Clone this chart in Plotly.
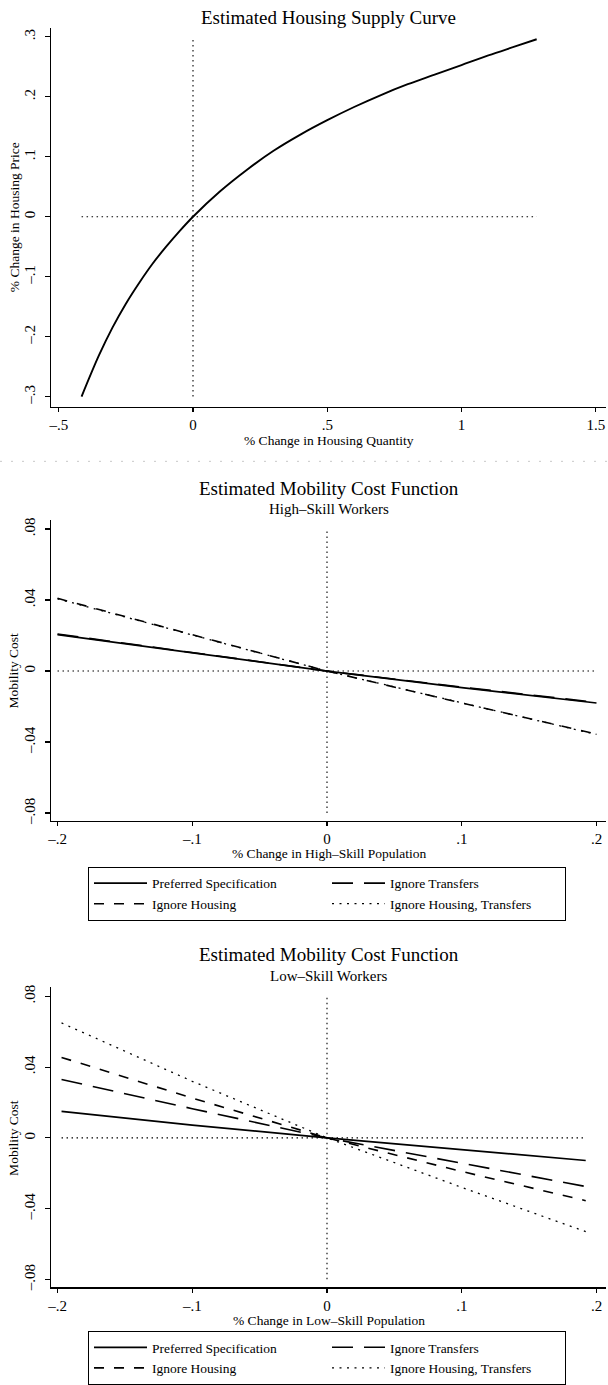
import plotly.graph_objects as go

W, H = 608, 1385
FONT = "Liberation Serif"

# ---------------- data ----------------
# Panel 1: housing supply curve
housing_qty = [-0.415, -0.35, -0.3, -0.25, -0.2, -0.15, -0.1, -0.05, 0.0, 0.1, 0.2, 0.3,
               0.4, 0.5, 0.6, 0.7, 0.8, 0.9, 1.0, 1.1, 1.2, 1.28]
housing_price = [-0.300, -0.231, -0.185, -0.145, -0.110, -0.078, -0.050, -0.024, 0.0, 0.042,
                 0.078, 0.110, 0.137, 0.161, 0.183, 0.203, 0.221, 0.237, 0.253, 0.269,
                 0.284, 0.296]

series_names = ["Preferred Specification", "Ignore Transfers",
                "Ignore Housing", "Ignore Housing, Transfers"]

# Panel 2: high-skill mobility cost
high_pop = [-0.2, -0.1, 0.0, 0.1, 0.2]
high_pref = [0.0205, 0.0102, 0.0, -0.0093, -0.0180]
high_transfers = [0.0209, 0.0105, 0.0, -0.0090, -0.0177]
high_housing = [0.0410, 0.0205, 0.0, -0.0180, -0.0355]
high_housing_transfers = [0.0407, 0.0203, 0.0, -0.0179, -0.0357]

# Panel 3: low-skill mobility cost
low_pop = [-0.197, -0.1, 0.0, 0.1, 0.192]
low_pref = [0.0150, 0.0072, 0.0, -0.0066, -0.0128]
low_transfers = [0.0330, 0.0165, 0.0, -0.0145, -0.0275]
low_housing = [0.0455, 0.0225, 0.0, -0.0190, -0.0355]
low_housing_transfers = [0.0650, 0.0320, 0.0, -0.0280, -0.0530]

# tick labels
p1_xticks = [-0.5, 0, 0.5, 1, 1.5]
p1_xticktext = ["\u2013.5", "0", ".5", "1", "1.5"]
p1_yticks = [-0.3, -0.2, -0.1, 0, 0.1, 0.2, 0.3]
p1_yticktext = ["\u2013.3", "\u2013.2", "\u2013.1", "0", ".1", ".2", ".3"]
mob_xticks = [-0.2, -0.1, 0, 0.1, 0.2]
mob_xticktext = ["\u2013.2", "\u2013.1", "0", ".1", ".2"]
mob_yticks = [-0.08, -0.04, 0, 0.04, 0.08]
mob_yticktext = ["\u2013.08", "\u2013.04", "0", ".04", ".08"]

# ---------------- layout helpers ----------------
def py(px):
    return 1 - px / H

def px_(x):
    return x / W

X_L, X_R = 51, 606
dom_x = [px_(X_L), px_(X_R)]

P1 = dict(top=28, bottom=408)
P2 = dict(top=522, bottom=824)
P3 = dict(top=991, bottom=1292)

styles = {
    "Preferred Specification": dict(dash="solid", width=1.7),
    "Ignore Transfers": dict(dash="21px,11px", width=1.6),
    "Ignore Housing": dict(dash="10px,10px", width=1.6),
    "Ignore Housing, Transfers": dict(dash="2px,5.5px", width=1.3),
}
REF_DASH = dict(color="black", width=1.1, dash="1.5px,3.5px")

fig = go.Figure()

# ----- Panel 1 -----
fig.add_trace(go.Scatter(x=[min(housing_qty), max(housing_qty)], y=[0, 0], mode="lines",
                         line=REF_DASH, showlegend=False, xaxis="x", yaxis="y", hoverinfo="skip"))
fig.add_trace(go.Scatter(x=[0, 0], y=[min(housing_price), max(housing_price)], mode="lines",
                         line=REF_DASH, showlegend=False, xaxis="x", yaxis="y", hoverinfo="skip"))
fig.add_trace(go.Scatter(x=housing_qty, y=housing_price, mode="lines",
                         line=dict(color="black", width=1.9, shape="spline", smoothing=1.0),
                         showlegend=False, xaxis="x", yaxis="y"))

# ----- mobility panels -----
def add_mobility(xs, series, xa, ya, legend):
    fig.add_trace(go.Scatter(x=[xs[0], xs[-1]], y=[0, 0], mode="lines", line=REF_DASH,
                             showlegend=False, xaxis=xa, yaxis=ya, hoverinfo="skip"))
    fig.add_trace(go.Scatter(x=[0, 0], y=[mob_yticks[0], mob_yticks[-1]], mode="lines",
                             line=REF_DASH, showlegend=False, xaxis=xa, yaxis=ya,
                             hoverinfo="skip"))
    for name, ys in zip(series_names, series):
        st = styles[name]
        fig.add_trace(go.Scatter(x=xs, y=ys, mode="lines", name=name,
                                 line=dict(color="black", width=st["width"], dash=st["dash"]),
                                 xaxis=xa, yaxis=ya, legend=legend, showlegend=True))

add_mobility(high_pop, [high_pref, high_transfers, high_housing, high_housing_transfers],
             "x2", "y2", "legend")
add_mobility(low_pop, [low_pref, low_transfers, low_housing, low_housing_transfers],
             "x3", "y3", "legend2")

tickfont = dict(family=FONT, size=15, color="black")

def xaxis_cfg(rng, tv, tt, anchor):
    return dict(domain=dom_x, range=rng, tickvals=tv, ticktext=tt, showline=True,
                linecolor="black", linewidth=1.3, ticks="outside", ticklen=4,
                tickcolor="black", tickwidth=1.2, showgrid=False, zeroline=False,
                tickfont=tickfont, anchor=anchor, ticklabelstandoff=0,
                automargin=False, ticklabeloverflow="allow")

def yaxis_cfg(rng, tv, tt, pnl, anchor):
    return dict(domain=[py(pnl["bottom"]), py(pnl["top"])], range=rng, tickvals=tv,
                ticktext=tt, showline=True, linecolor="black", linewidth=1.3,
                ticks="outside", ticklen=5, tickcolor="black", tickwidth=1.2,
                showgrid=False, zeroline=False, tickfont=tickfont, tickangle=-90,
                anchor=anchor, ticklabelstandoff=4, automargin=False,
                ticklabeloverflow="allow")

def yrange(pnl, hi_tick_px, lo_tick_px, hi, lo):
    per = (lo_tick_px - hi_tick_px) / (hi - lo)
    return [lo - (pnl["bottom"] - lo_tick_px) / per, hi + (hi_tick_px - pnl["top"]) / per]

p1_x0, p1_per = 193, 268.5
p1_xr = [(X_L - p1_x0) / p1_per, (X_R - p1_x0) / p1_per]
m_x0, m_per = 327, 1347.5
m_xr = [(X_L - m_x0) / m_per, (X_R - m_x0) / m_per]

y1r = yrange(P1, 37, 398, 0.3, -0.3)
y2r = yrange(P2, 531, 816, 0.08, -0.08)
y3r = yrange(P3, 1000, 1284, 0.08, -0.08)

fig.update_layout(
    xaxis=xaxis_cfg(p1_xr, p1_xticks, p1_xticktext, "y"),
    xaxis2=xaxis_cfg(m_xr, mob_xticks, mob_xticktext, "y2"),
    xaxis3=xaxis_cfg(m_xr, mob_xticks, mob_xticktext, "y3"),
    yaxis=yaxis_cfg(y1r, p1_yticks, p1_yticktext, P1, "x"),
    yaxis2=yaxis_cfg(y2r, mob_yticks, mob_yticktext, P2, "x2"),
    yaxis3=yaxis_cfg(y3r, mob_yticks, mob_yticktext, P3, "x3"),
)

cx = (X_L + X_R) / 2 / W
annotations = []
def ann(text, x, ypx, size, angle=0):
    annotations.append(dict(text=text, x=x, y=py(ypx), xref="paper", yref="paper",
                            showarrow=False, textangle=angle, xanchor="center", yanchor="middle",
                            font=dict(family=FONT, size=size, color="black")))

ann("Estimated Housing Supply Curve", cx, 18, 19)
ann("% Change in Housing Quantity", cx, 442, 13.5)
ann("% Change in Housing Price", px_(14), (P1["top"] + P1["bottom"]) / 2, 13.5, -90)

ann("Estimated Mobility Cost Function", cx, 490, 19)
ann("High\u2013Skill Workers", cx, 511, 15)
ann("% Change in High\u2013Skill Population", cx, 857, 13.5)
ann("Mobility Cost", px_(14), 673, 13.5, -90)

ann("Estimated Mobility Cost Function", cx, 958, 19)
ann("Low\u2013Skill Workers", cx, 980, 15)
ann("% Change in Low\u2013Skill Population", cx, 1325, 13.5)
ann("Mobility Cost", px_(14), 1142, 13.5, -90)

legend_common = dict(orientation="h", xanchor="center", yanchor="top",
                     bordercolor="black", borderwidth=1, bgcolor="white",
                     font=dict(family=FONT, size=13.5, color="black"),
                     itemwidth=53, entrywidth=170, entrywidthmode="pixels",
                     traceorder="normal")

fig.update_layout(
    width=W, height=H, margin=dict(l=0, r=0, t=0, b=0),
    paper_bgcolor="white", plot_bgcolor="white",
    annotations=annotations,
    legend=dict(x=px_(327), y=py(870), **legend_common),
    legend2=dict(x=px_(327), y=py(1336), **legend_common),
    shapes=[dict(type="line", xref="paper", yref="paper", x0=0, x1=1, y0=py(463), y1=py(463),
                 line=dict(color="#c8c8c8", width=1, dash="2px,9px"))],
)

fig.write_html("out.html",
               config={"displayModeBar": False, "staticPlot": True},
               post_script="document.body.style.margin='0';document.body.style.overflow='hidden';")
